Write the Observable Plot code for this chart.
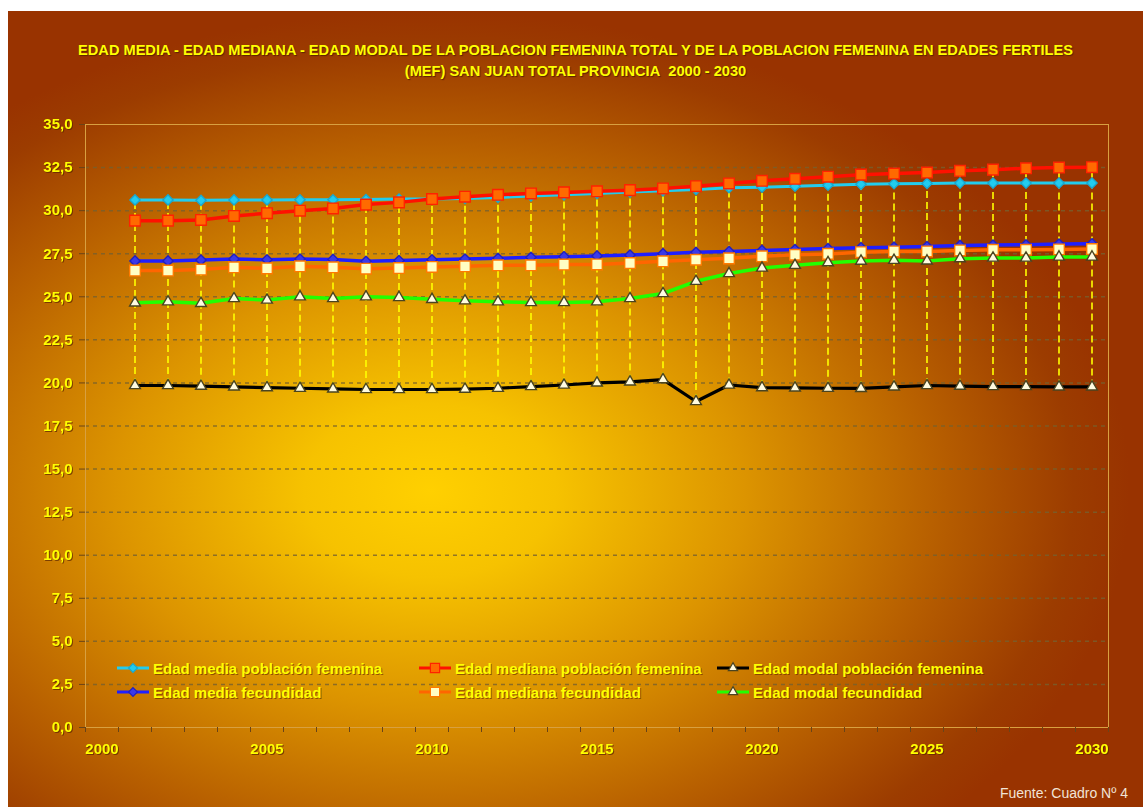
<!DOCTYPE html>
<html>
<head>
<meta charset="utf-8">
<script src="https://cdn.jsdelivr.net/npm/d3@7"></script>
<script src="https://cdn.jsdelivr.net/npm/@observablehq/plot@0.6"></script>
<style>
  html, body { margin: 0; padding: 0; background: #ffffff; }
  #wrap {
    position: absolute; left: 8px; top: 11px; width: 1135px; height: 796px; overflow: hidden;
    background: radial-gradient(ellipse 700px 480px at 422px 480px, #ffd000 0%, #f6c200 18%, #dc9400 45%, #b86000 72%, #9c3c00 92%, #993300 100%);
    font-family: "Liberation Sans", Arial, sans-serif;
  }
  #title {
    position: absolute; left: 0; width: 1135px; top: 29px; text-align: center;
    color: #ffff00; font-weight: bold; font-size: 14.6px; line-height: 21px;
    text-shadow: 1px 1px 1px #5a2400;
  }
  #chart { position: absolute; left: 0; top: 0; }
  #chart svg text { filter: drop-shadow(1px 1px 0.5px rgba(90,36,0,0.7)); }
  #legend { position: absolute; left: 0; top: 0; }
  .item { position: absolute; display: flex; align-items: center; height: 20px;
    color: #ffff00; font-weight: bold; font-size: 15px; white-space: nowrap;
    text-shadow: 1px 1px 0.5px rgba(90,36,0,0.6); }
  .item svg { margin-right: 3px; }
  #caption { position: absolute; right: 15px; top: 774px; color: #f2e4d6; font-size: 14px; }
</style>
</head>
<body>
<div id="wrap">
  <div id="chart"></div>
  <div id="title">EDAD MEDIA - EDAD MEDIANA - EDAD MODAL DE LA POBLACION FEMENINA TOTAL Y DE LA POBLACION FEMENINA EN EDADES FERTILES<br>(MEF) SAN JUAN TOTAL PROVINCIA&nbsp; 2000 - 2030</div>
  <div id="legend"></div>
  <div id="caption">Fuente: Cuadro Nº 4</div>
</div>
<script>
// ---- data ----
const years = [2001,2002,2003,2004,2005,2006,2007,2008,2009,2010,2011,2012,2013,2014,2015,2016,2017,2018,2019,2020,2021,2022,2023,2024,2025,2026,2027,2028,2029,2030];
const mediaPoblacion   = [30.62,30.62,30.60,30.62,30.62,30.63,30.63,30.64,30.67,30.68,30.71,30.77,30.85,30.92,31.00,31.08,31.15,31.22,31.33,31.36,31.42,31.48,31.53,31.56,31.58,31.60,31.60,31.60,31.60,31.60];
const medianaPoblacion = [29.42,29.42,29.46,29.69,29.85,30.00,30.13,30.35,30.48,30.67,30.81,30.92,31.00,31.06,31.12,31.19,31.29,31.42,31.58,31.73,31.85,31.97,32.09,32.15,32.21,32.31,32.38,32.46,32.50,32.52];
const modalPoblacion   = [19.85,19.85,19.81,19.77,19.73,19.69,19.65,19.62,19.62,19.62,19.64,19.69,19.79,19.88,20.00,20.06,20.19,18.92,19.88,19.73,19.71,19.69,19.68,19.77,19.85,19.81,19.79,19.79,19.77,19.77];
const mediaFecundidad  = [27.08,27.08,27.13,27.19,27.15,27.19,27.17,27.06,27.10,27.15,27.19,27.23,27.29,27.33,27.37,27.42,27.50,27.58,27.63,27.69,27.74,27.80,27.85,27.88,27.92,27.98,28.00,28.02,28.06,28.08];
const medianaFecundidad= [26.52,26.52,26.58,26.71,26.65,26.77,26.71,26.63,26.67,26.73,26.77,26.83,26.83,26.87,26.88,26.96,27.06,27.15,27.23,27.35,27.44,27.49,27.59,27.63,27.63,27.69,27.73,27.73,27.75,27.77];
const modalFecundidad  = [24.65,24.71,24.62,24.90,24.81,25.00,24.90,25.00,24.96,24.85,24.77,24.71,24.67,24.67,24.71,24.90,25.19,25.90,26.35,26.67,26.83,26.98,27.07,27.12,27.08,27.21,27.25,27.25,27.31,27.31];
const seriesNames = ["Edad media población femenina","Edad mediana población femenina","Edad modal población femenina","Edad media fecundidad","Edad mediana fecundidad","Edad modal fecundidad"];
const xTickLabels = [2000,2005,2010,2015,2020,2025,2030];
const yTickValues = [0,2.5,5,7.5,10,12.5,15,17.5,20,22.5,25,27.5,30,32.5,35];
const xCategories = [2000,2001,2002,2003,2004,2005,2006,2007,2008,2009,2010,2011,2012,2013,2014,2015,2016,2017,2018,2019,2020,2021,2022,2023,2024,2025,2026,2027,2028,2029,2030];

// ---- styles ----
const styles = [
  {line:"#22ccee", width:3, symbol:"diamond2", r:4.6, fill:"#22ccee", stroke:"#18a8d0"},
  {line:"#ff1100", width:3.5, symbol:"square", r:6, fill:"#ff6a00", stroke:"#ff2200"},
  {line:"#000000", width:3.2, symbol:"triangle", r:4, fill:"#fffbe0", stroke:"#4a4420"},
  {line:"#1f1fff", width:3.5, symbol:"diamond2", r:4.6, fill:"#3a3ae8", stroke:"#2020c0"},
  {line:"#ff6600", width:3.5, symbol:"square", r:6, fill:"#ffffc4", stroke:"#ff7a00"},
  {line:"#22ff00", width:3.5, symbol:"triangle", r:4, fill:"#fffbe0", stroke:"#4a4420"}
];
const allValues = [mediaPoblacion, medianaPoblacion, modalPoblacion, mediaFecundidad, medianaFecundidad, modalFecundidad];
const series = allValues.map((vals, k) => vals.map((v, i) => ({year: years[i], value: v, name: seriesNames[k]})));
const hiLo = years.map((y, i) => ({year: y, lo: d3.min(allValues, a => a[i]), hi: d3.max(allValues, a => a[i])}));
const yFmt = d => d.toFixed(1).replace(".", ",");

const marks = [
  Plot.ruleY(yTickValues.filter(v => v > 0 && v < 35), {stroke: "#76602e", strokeOpacity: 0.8, strokeWidth: 1.5, strokeDasharray: "4,4"}),
  Plot.frame({stroke: "#d8a040", strokeWidth: 1}),
  Plot.axisY({ticks: yTickValues, tickFormat: yFmt, tickSize: 6, tickPadding: 7, stroke: "#6a4418", fill: "#ffff00", label: null}),
  Plot.axisX({ticks: xCategories.map(c => c - 0.5).concat([2030.5]), tickSize: 5, tickFormat: () => "", stroke: "#6a4418", label: null}),
  Plot.axisX({ticks: xTickLabels, tickSize: 0, tickPadding: 16, tickFormat: d => String(d), fill: "#ffff00", label: null}),
  Plot.ruleX(hiLo, {x: "year", y1: "lo", y2: "hi", stroke: "#ffff00", strokeWidth: 1.6, strokeDasharray: "7,4"})
];
series.forEach((rows, k) => {
  const s = styles[k];
  marks.push(Plot.line(rows, {x: "year", y: "value", stroke: s.line, strokeWidth: s.width}));
  marks.push(Plot.dot(rows, {x: "year", y: "value", symbol: s.symbol, r: s.r, fill: s.fill, stroke: s.stroke, strokeWidth: 1.4}));
});

const chart = Plot.plot({
  width: 1135, height: 796,
  marginLeft: 77, marginRight: 35, marginTop: 113, marginBottom: 80,
  x: {domain: [1999.5, 2030.5]},
  y: {domain: [0, 35]},
  style: {background: "transparent", fontFamily: "'Liberation Sans', Arial, sans-serif", fontSize: "15px", fontWeight: "bold", overflow: "visible"},
  marks
});
document.getElementById("chart").appendChild(chart);

// ---- legend ----
const legendPos = [[108, 647], [410, 647], [708, 647], [108, 671], [410, 671], [708, 671]];
const legend = document.getElementById("legend");
seriesNames.forEach((name, k) => {
  const s = styles[k];
  const div = document.createElement("div");
  div.className = "item";
  div.style.left = legendPos[k][0] + "px";
  div.style.top = legendPos[k][1] + "px";
  const sym = s.symbol === "diamond2" ? d3.symbolDiamond2 : s.symbol === "square" ? d3.symbolSquare : d3.symbolTriangle;
  const path = d3.symbol(sym, Math.PI * s.r * s.r * 0.75)();
  div.innerHTML = `<svg width="34" height="14" viewBox="-17 -7 34 14"><line x1="-16" x2="16" y1="0" y2="0" stroke="${s.line}" stroke-width="3"/><path d="${path}" fill="${s.fill}" stroke="${s.stroke}" stroke-width="1.2"/></svg><span>${name}</span>`;
  legend.appendChild(div);
});
</script>
</body>
</html>
